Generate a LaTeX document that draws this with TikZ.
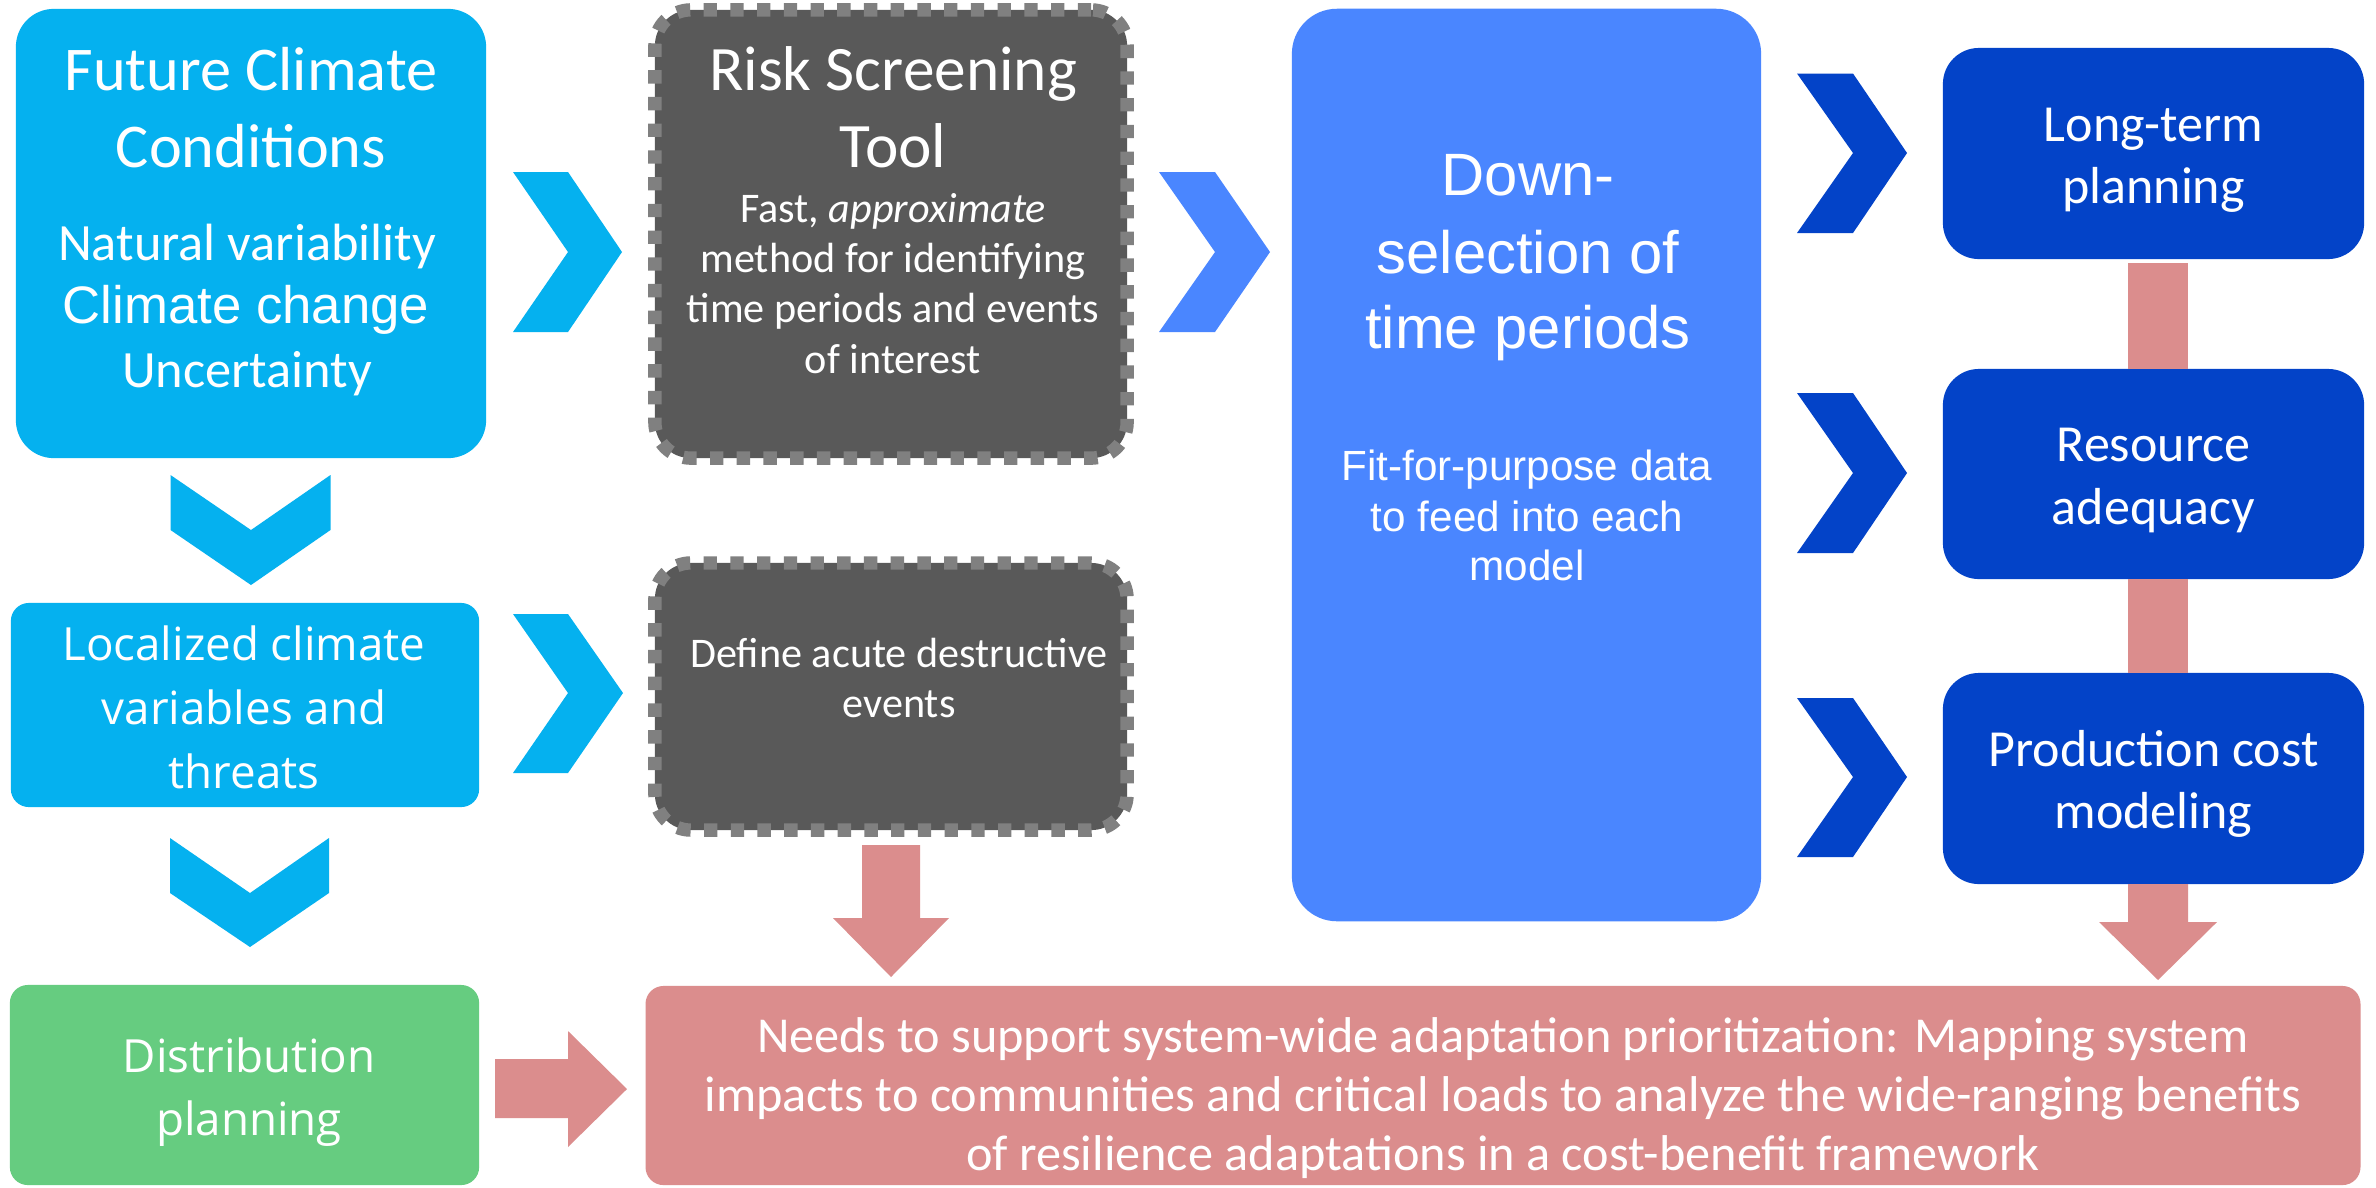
\documentclass[tikz,border=0pt]{standalone}
\usepackage{fontspec}
\setmainfont{Carlito}
\newfontfamily\arialf{Liberation Sans}
\newfontfamily\segoef{Open Sans}
\definecolor{lblue}{HTML}{05B1EF}
\definecolor{mblue}{HTML}{4A86FF}
\definecolor{dblue}{HTML}{0343C8}
\definecolor{pinkc}{HTML}{DB8D8D}
\definecolor{greenc}{HTML}{66CC80}
\definecolor{greyfill}{HTML}{595959}
\definecolor{greydash}{HTML}{808080}
\tikzset{
  box/.style={inner sep=0pt, outer sep=0pt},
  dashbox/.style={box, fill=greyfill, draw=greydash, line width=3.8pt, dash pattern=on 3.8pt off 3.8pt, rounded corners=0.36cm},
  tx/.style={anchor=base, text=white, inner sep=0pt, outer sep=0pt},
  ftitle/.style={font=\fontsize{17.7pt}{21pt}\selectfont},
  fbody/.style={font=\fontsize{14.9pt}{18pt}\selectfont},
  frisk/.style={font=\fontsize{18pt}{21pt}\selectfont},
  fsmall/.style={font=\fontsize{12pt}{14pt}\selectfont},
  fdown/.style={font=\arialf\fontsize{17pt}{21pt}\selectfont},
  fdownb/.style={font=\arialf\fontsize{12pt}{14pt}\selectfont},
  fblue/.style={font=\fontsize{14.8pt}{17pt}\selectfont},
  fseg/.style={font=\segoef\fontsize{13pt}{18pt}\selectfont},
  fneeds/.style={font=\fontsize{14.3pt}{17pt}\selectfont}
}
\begin{document}
\begin{tikzpicture}[x=0.01cm,y=-0.01cm]
\useasboundingbox (0,0) rectangle (2376,1187);
\fill[white] (0,0) rectangle (2376,1187);

% ---------- boxes ----------
\node[box, fill=lblue, rounded corners=0.38cm, minimum width=4.70cm, minimum height=4.49cm] (fc) at (251,233.5) {};
\node[box, fill=lblue, rounded corners=0.18cm, minimum width=4.68cm, minimum height=2.04cm] (loc) at (245,705) {};
\node[box, fill=greenc, rounded corners=0.18cm, minimum width=4.69cm, minimum height=2.00cm] (dist) at (244.5,1085) {};
\node[dashbox, minimum width=4.72cm, minimum height=4.48cm] (risk) at (891,234) {};
\node[dashbox, minimum width=4.72cm, minimum height=2.67cm] (def) at (891,696.5) {};
\node[box, fill=mblue, rounded corners=0.45cm, minimum width=4.69cm, minimum height=9.12cm] (down) at (1526.5,465) {};
\node[box, fill=dblue, rounded corners=0.36cm, minimum width=4.21cm, minimum height=2.11cm] (lt) at (2153.5,153.5) {};
\node[box, fill=dblue, rounded corners=0.36cm, minimum width=4.21cm, minimum height=2.10cm] (ra) at (2153.5,474) {};
\node[box, fill=dblue, rounded corners=0.36cm, minimum width=4.21cm, minimum height=2.11cm] (pc) at (2153.5,778.5) {};
\node[box, fill=pinkc, rounded corners=0.18cm, minimum width=17.14cm, minimum height=1.99cm] (needs) at (1503,1085.5) {};

% ---------- chevrons ----------
\fill[lblue] (513,172) -- (568,172) -- (622,252) -- (568,332) -- (513,332) -- (568,252) -- cycle;
\fill[lblue] (513,614) -- (568,614) -- (623,693) -- (568,773) -- (513,773) -- (568,693) -- cycle;
\fill[mblue] (1159,172) -- (1215,172) -- (1270,252) -- (1215,332) -- (1159,332) -- (1215,252) -- cycle;
\fill[dblue] (1797,73.5) -- (1853,73.5) -- (1907,153) -- (1853,233) -- (1797,233) -- (1853,153) -- cycle;
\fill[dblue] (1797,393) -- (1853,393) -- (1907,473) -- (1853,553) -- (1797,553) -- (1853,473) -- cycle;
\fill[dblue] (1797,698) -- (1853,698) -- (1907,777) -- (1853,857) -- (1797,857) -- (1853,777) -- cycle;
\fill[lblue] (170.5,475) -- (251,530) -- (330.5,475) -- (330.5,530) -- (251,585) -- (170.5,530) -- cycle;
\fill[lblue] (170,838) -- (250,893) -- (329,838) -- (329,893) -- (250,947) -- (170,893) -- cycle;

% ---------- pink connectors ----------
\fill[pinkc] (2128,263) rectangle (2188,369);
\fill[pinkc] (2128,579) rectangle (2188,673);
\fill[pinkc] (2128,884) -- (2188,884) -- (2188,922) -- (2217,922) -- (2158,980) -- (2099,922) -- (2128,922) -- cycle;
\fill[pinkc] (862,845) -- (920,845) -- (920,918) -- (949,918) -- (891,977) -- (833,918) -- (862,918) -- cycle;
\fill[pinkc] (495,1059) -- (568,1059) -- (568,1031) -- (627,1089) -- (568,1147) -- (568,1118) -- (495,1118) -- cycle;

% ---------- texts ----------
\node[tx, ftitle] (fc1) at (251,90) {Future Climate};
\node[tx, ftitle] (fc2) at (251,167) {Conditions};
\node[tx, fbody] (fc3) at (247,260) {Natural variability};
\node[tx, font=\arialf\fontsize{15pt}{18pt}\selectfont] (fc4) at (246,323) {Climate change};
\node[tx, fbody] (fc5) at (247,387) {Uncertainty};

\node[tx, frisk] (rk1) at (893,90) {Risk Screening};
\node[tx, frisk] (rk2) at (893,167) {Tool};
\node[tx, fsmall] (rk3) at (893,222) {Fast, \textit{approximate}};
\node[tx, fsmall] (rk4) at (893,272) {method for identifying};
\node[tx, fsmall] (rk5) at (893,322) {time periods and events};
\node[tx, fsmall] (rk6) at (893,373) {of interest};

\node[tx, fsmall] (df1) at (899,667) {Define acute destructive};
\node[tx, fsmall] (df2) at (899,717) {events};

\node[tx, fdown] (dn1) at (1528,195) {Down-};
\node[tx, fdown] (dn2) at (1528,273) {selection of};
\node[tx, fdown] (dn3) at (1528,348) {time periods};
\node[tx, fdownb] (dn4) at (1527,480) {Fit-for-purpose data};
\node[tx, fdownb] (dn5) at (1527,531) {to feed into each};
\node[tx, fdownb] (dn6) at (1527,580) {model};

\node[tx, fblue] (lt1) at (2153.5,141.5) {Long-term};
\node[tx, fblue] (lt2) at (2153.5,203) {planning};
\node[tx, fblue] (ra1) at (2153.5,461) {Resource};
\node[tx, fblue] (ra2) at (2153.5,524) {adequacy};
\node[tx, fblue] (pc1) at (2153.5,766) {Production cost};
\node[tx, fblue] (pc2) at (2153.5,828) {modeling};

\node[tx, fseg] (lc1) at (244,660) {Localized climate};
\node[tx, fseg] (lc2) at (244,724) {variables and};
\node[tx, fseg] (lc3) at (244,788) {threats};

\node[tx, fseg] (ds1) at (249,1072) {Distribution};
\node[tx, fseg] (ds2) at (249,1135.5) {planning};

\node[tx, fneeds] (nd1) at (1503,1052) {Needs to support system-wide adaptation prioritization: Mapping system};
\node[tx, fneeds] (nd2) at (1503,1111) {impacts to communities and critical loads to analyze the wide-ranging benefits};
\node[tx, fneeds] (nd3) at (1503,1170) {of resilience adaptations in a cost-benefit framework};
\end{tikzpicture}
\end{document}
